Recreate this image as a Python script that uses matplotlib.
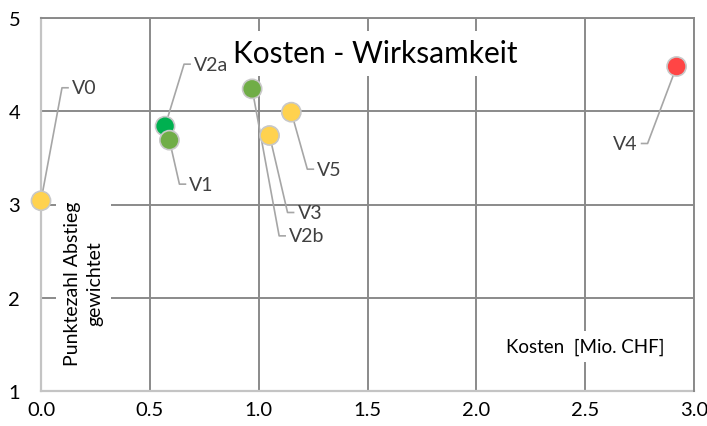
import numpy as np
import matplotlib
matplotlib.use("Agg")
from matplotlib import pyplot as plt

plt.rcParams['font.family'] = ['Lato', 'DejaVu Sans']

names = ['V0', 'V2a', 'V1', 'V2b', 'V3', 'V5', 'V4']
kosten = [0.0, 0.57, 0.59, 0.97, 1.05, 1.15, 2.92]
punkte = [3.04, 3.84, 3.69, 4.24, 3.74, 3.99, 4.48]
colors = ['#ffd24f', '#00b050', '#70ad47', '#70ad47', '#ffd24f', '#ffd24f', '#ff4545']

# leader elbows in pixels relative to the point, and which side the text sits
offsets = [(21, 113), (19, 62), (10, -44), (27, -147), (18, -77), (16, -57), (-29, -77)]

x_ticks = [0.0, 0.5, 1.0, 1.5, 2.0, 2.5, 3.0]
y_ticks = [1, 2, 3, 4, 5]

fig = plt.figure(figsize=(7.07, 4.27), dpi=100)
ax = fig.add_axes([41 / 707, 1 - 392 / 427, (694 - 41) / 707, (392 - 19) / 427])
ax.set_xlim(0, 3)
ax.set_ylim(1, 5)
ax.set_xticks(x_ticks)
ax.set_yticks(y_ticks)
ax.set_xticklabels(['%.1f' % t for t in x_ticks])
ax.tick_params(length=0, labelsize=14.5, pad=7)
ax.tick_params(axis='y', pad=15)
ax.grid(True, color='#8a8a8a', lw=1.4, zorder=0)
ax.set_axisbelow(True)
for s in ['top', 'right']:
    ax.spines[s].set_color('#8a8a8a')
    ax.spines[s].set_linewidth(1.4)
for s in ['left', 'bottom']:
    ax.spines[s].set_color('#c4c4c4')
    ax.spines[s].set_linewidth(1.6)
    ax.spines[s].set_zorder(1)

# leader lines + labels
inv = ax.transData.inverted()
for name, x, y, (dx, dy) in zip(names, kosten, punkte, offsets):
    p = ax.transData.transform((x, y))
    e = p + np.array([dx, dy])
    sign = 1 if dx > 0 else -1
    h = e + np.array([sign * 6, 0])
    pts = inv.transform(np.array([p, e, h]))
    ax.plot(pts[:, 0], pts[:, 1], color='#a6a6a6', lw=1.2, zorder=3, clip_on=False)
    t = inv.transform(h + np.array([sign * 4, 0]))
    ax.text(t[0], t[1], name, fontsize=14, color='#404040',
            ha='left' if sign > 0 else 'right', va='center', zorder=5)

ax.scatter(kosten, punkte, s=190, c=colors, edgecolors='#c8c8c8', linewidths=1.2, zorder=4, clip_on=False)

ax.text(0.512, 0.905, 'Kosten - Wirksamkeit', transform=ax.transAxes, fontsize=21.5,
        ha='center', va='center', color='black', bbox=dict(facecolor='white', edgecolor='none', pad=6), zorder=2)
ax.text(0.065, 0.29, 'Punktezahl Abstieg\ngewichtet', transform=ax.transAxes, fontsize=14,
        rotation=90, ha='center', va='center', color='black', multialignment='center',
        linespacing=1.35, bbox=dict(facecolor='white', edgecolor='none', pad=6), zorder=2)
ax.text(0.833, 0.12, 'Kosten  [Mio. CHF]', transform=ax.transAxes, fontsize=13.5,
        ha='center', va='center', color='black', bbox=dict(facecolor='white', edgecolor='none', pad=5), zorder=2)

fig.savefig('out.png', dpi=100)
